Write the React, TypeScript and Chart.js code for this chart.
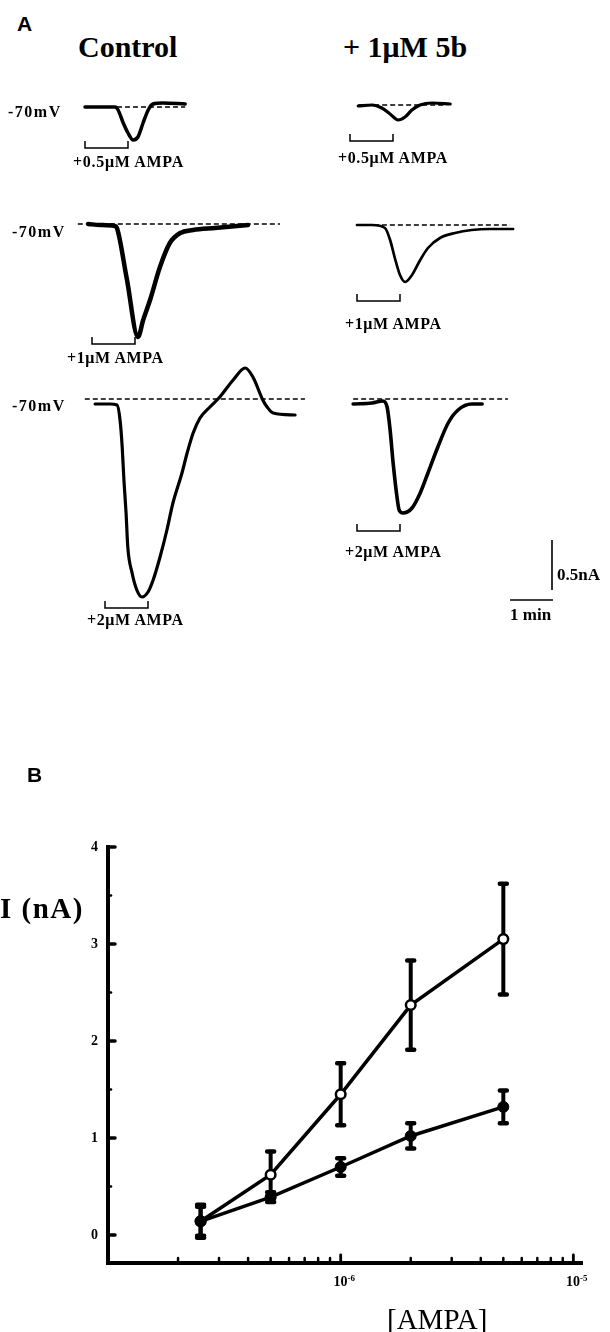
import React, { useEffect, useRef } from "react";
import { Chart, registerables } from "chart.js";

Chart.register(...registerables);

// ---------------- Panel A data: currents (nA, relative to -70 mV baseline) vs time (min from AMPA onset) ----------------
const ctl05Time = [0, 0.35, 0.7, 0.77, 0.88, 1.0, 1.12, 1.23, 1.35, 1.47, 1.58, 1.81, 2.33];
const ctl05Current = [0, 0, 0, -0.03, -0.15, -0.26, -0.33, -0.3, -0.16, -0.03, 0.03, 0.04, 0.03];
const ctl05Baseline = [0, 2.33];

const drug05Time = [0.19, 0.51, 0.74, 0.93, 1.12, 1.28, 1.44, 1.63, 1.91, 2.33];
const drug05Current = [-0.01, 0, -0.03, -0.09, -0.15, -0.12, -0.05, 0, 0.02, 0.01];
const drug05Baseline = [0.19, 2.2];

const ctl1Time = [-0.09, 0.19, 0.53, 0.58, 0.81, 1.07, 1.19, 1.35, 1.58, 1.81, 2.05, 2.35, 2.86, 3.63];
const ctl1Current = [0, -0.01, -0.02, -0.04, -0.55, -1.13, -0.96, -0.76, -0.43, -0.19, -0.09, -0.06, -0.04, -0.01];
const ctl1Baseline = [-0.33, 4.37];

const drug1Time = [0, 0.35, 0.65, 0.77, 0.88, 1.0, 1.12, 1.28, 1.47, 1.65, 1.93, 2.28, 2.67, 3.09, 3.63];
const drug1Current = [0, 0, -0.03, -0.15, -0.33, -0.5, -0.57, -0.5, -0.35, -0.23, -0.13, -0.08, -0.05, -0.04, -0.04];
const drug1Baseline = [0.02, 3.56];

const ctl2Time = [-0.23, 0.12, 0.28, 0.35, 0.4, 0.44, 0.49, 0.53, 0.63, 0.74, 0.86, 1.0, 1.12, 1.28, 1.44, 1.58, 1.79, 1.91, 2.05, 2.21, 2.44, 2.67, 2.98, 3.26, 3.44, 3.67, 3.77, 3.91, 4.42];
const ctl2Current = [-0.05, -0.05, -0.06, -0.21, -0.48, -0.81, -1.14, -1.48, -1.74, -1.91, -1.98, -1.93, -1.81, -1.58, -1.31, -1.04, -0.74, -0.54, -0.34, -0.19, -0.08, 0.02, 0.19, 0.31, 0.22, -0.01, -0.08, -0.14, -0.16];
const ctl2Baseline = [-0.47, 4.65];

const drug2Time = [-0.09, 0.35, 0.6, 0.7, 0.77, 0.84, 0.93, 0.98, 1.07, 1.28, 1.47, 1.65, 1.88, 2.12, 2.35, 2.67, 2.91];
const drug2Current = [-0.05, -0.04, -0.02, -0.08, -0.31, -0.64, -0.98, -1.11, -1.14, -1.09, -0.94, -0.74, -0.48, -0.24, -0.11, -0.05, -0.05];
const drug2Baseline = [-0.09, 3.51];

const applicationOn = [0, 0, 0, 0, 0, 0];
const applicationOff = [1, 1, 1, 1, 1, 1];
const scaleBarCurrent = 0.5; // nA
const scaleBarTime = 1; // min

// ---------------- Panel B data ----------------
const concentrations = [0.25e-6, 0.5e-6, 1e-6, 2e-6, 5e-6];
const controlMean = [0.14, 0.62, 1.45, 2.37, 3.05];
const controlErr = [0.17, 0.24, 0.32, 0.46, 0.57];
const drugMean = [0.14, 0.39, 0.7, 1.02, 1.32];
const drugErr = [0.15, 0.05, 0.09, 0.13, 0.17];
const yTickValues = [0, 1, 2, 3, 4];
const yTickLabels = ["0", "1", "2", "3", "4"];
const yMinorTicks = [0.5, 1.5, 2.5, 3.5];
const xMajorTicks = [1e-6, 1e-5];
const xMajorLabels = [["10", "-6"], ["10", "-5"]];
const xMinorTicks = [2e-7, 3e-7, 4e-7, 5e-7, 6e-7, 7e-7, 8e-7, 9e-7, 2e-6, 3e-6, 4e-6, 5e-6, 6e-6, 7e-6, 8e-6, 9e-6];

// ---------------- layout / style ----------------
const PX_PER_MIN = 43;
const PX_PER_NA = 100;
const SERIF = '"Liberation Serif", "Times New Roman", serif';
const SANS = '"Liberation Sans", Arial, sans-serif';

type TraceDef = {
  time: number[];
  current: number[];
  baseline: number[];
  idx: number;
  originX: number;
  baseY: number;
  bracketY: number;
  lw: number;
  scaleBar?: boolean;
};

const traces: TraceDef[] = [
  { time: ctl05Time, current: ctl05Current, baseline: ctl05Baseline, idx: 0, originX: 85, baseY: 107, bracketY: 148, lw: 3.5 },
  { time: drug05Time, current: drug05Current, baseline: drug05Baseline, idx: 1, originX: 350, baseY: 105, bracketY: 141, lw: 3.2 },
  { time: ctl1Time, current: ctl1Current, baseline: ctl1Baseline, idx: 2, originX: 92, baseY: 224, bracketY: 344, lw: 4.5 },
  { time: drug1Time, current: drug1Current, baseline: drug1Baseline, idx: 3, originX: 357, baseY: 225, bracketY: 301, lw: 2.7 },
  { time: ctl2Time, current: ctl2Current, baseline: ctl2Baseline, idx: 4, originX: 105, baseY: 399, bracketY: 608, lw: 3.2 },
  { time: drug2Time, current: drug2Current, baseline: drug2Baseline, idx: 5, originX: 357, baseY: 399, bracketY: 531, lw: 3.6, scaleBar: true },
];

const BOX_LEFT = 40;
const BOX_TOP = 40;
const BOX_W = 280;
const BOX_H = 260;

function TraceChart({ tr }: { tr: TraceDef }) {
  const ref = useRef<HTMLCanvasElement>(null);
  const left = tr.originX - BOX_LEFT;
  const top = tr.baseY - BOX_TOP;
  useEffect(() => {
    if (!ref.current) return;
    const bracketPlugin = {
      id: "bracket" + tr.idx,
      afterDatasetsDraw(chart: any) {
        const { ctx } = chart;
        const xs = chart.scales.x;
        const ys = chart.scales.y;
        const x1 = xs.getPixelForValue(applicationOn[tr.idx]);
        const x2 = xs.getPixelForValue(applicationOff[tr.idx]);
        const y = tr.bracketY - top;
        ctx.save();
        ctx.strokeStyle = "#000";
        ctx.lineWidth = 1.5;
        ctx.beginPath();
        ctx.moveTo(x1, y - 7);
        ctx.lineTo(x1, y);
        ctx.lineTo(x2, y);
        ctx.lineTo(x2, y - 7);
        ctx.stroke();
        if (tr.scaleBar) {
          // 0.5 nA and 1 min calibration bars, sized through the scales
          const barX = 552 - left;
          const barBottom = 590 - top;
          const hPx = ys.getPixelForValue(0) - ys.getPixelForValue(scaleBarCurrent);
          ctx.lineWidth = 1.6;
          ctx.beginPath();
          ctx.moveTo(barX, barBottom);
          ctx.lineTo(barX, barBottom - hPx);
          ctx.stroke();
          const tStart = (510 - tr.originX) / PX_PER_MIN;
          const xa = xs.getPixelForValue(tStart);
          const xb = xs.getPixelForValue(tStart + scaleBarTime);
          ctx.beginPath();
          ctx.moveTo(xa, 600 - top);
          ctx.lineTo(xb, 600 - top);
          ctx.stroke();
        }
        ctx.restore();
      },
    };
    const chart = new Chart(ref.current, {
      type: "line",
      data: {
        datasets: [
          {
            data: tr.time.map((t, i) => ({ x: t, y: tr.current[i] })),
            borderColor: "#000",
            borderWidth: tr.lw,
            pointRadius: 0,
            cubicInterpolationMode: "monotone",
            fill: false,
            clip: false as any,
            borderCapStyle: "round",
            borderJoinStyle: "round",
          },
          {
            data: [
              { x: tr.baseline[0], y: 0 },
              { x: tr.baseline[1], y: 0 },
            ],
            borderColor: "#000",
            borderWidth: 1.4,
            borderDash: [5, 3],
            pointRadius: 0,
            fill: false,
            clip: false as any,
          },
        ],
      },
      options: {
        animation: false,
        responsive: false,
        events: [],
        layout: { padding: 0 },
        plugins: { legend: { display: false }, tooltip: { enabled: false } },
        scales: {
          x: { type: "linear", display: false, min: -BOX_LEFT / PX_PER_MIN, max: (BOX_W - BOX_LEFT) / PX_PER_MIN },
          y: { type: "linear", display: false, min: -(BOX_H - BOX_TOP) / PX_PER_NA, max: BOX_TOP / PX_PER_NA },
        },
      } as any,
      plugins: [bracketPlugin],
    });
    return () => chart.destroy();
  }, []);
  return (
    <canvas
      ref={ref}
      width={BOX_W}
      height={BOX_H}
      style={{ position: "absolute", left, top, width: BOX_W, height: BOX_H }}
    />
  );
}

const B_TOP = 780;
const B_H = 552;

function DoseChart() {
  const ref = useRef<HTMLCanvasElement>(null);
  useEffect(() => {
    if (!ref.current) return;
    const axesPlugin = {
      id: "doseAxes",
      beforeDatasetsDraw(chart: any) {
        const { ctx } = chart;
        const xs = chart.scales.x;
        const ys = chart.scales.y;
        ctx.save();
        ctx.strokeStyle = "#000";
        const series: [number[], number[]][] = [
          [controlMean, controlErr],
          [drugMean, drugErr],
        ];
        series.forEach(([m, e]) => {
          concentrations.forEach((c, i) => {
            const x = xs.getPixelForValue(c);
            const y1 = ys.getPixelForValue(m[i] + e[i]);
            const y2 = ys.getPixelForValue(m[i] - e[i]);
            ctx.lineWidth = 4;
            ctx.lineCap = "butt";
            ctx.beginPath();
            ctx.moveTo(x, y1);
            ctx.lineTo(x, y2);
            ctx.stroke();
            ctx.lineCap = "round";
            ctx.lineWidth = 4.5;
            ctx.beginPath();
            ctx.moveTo(x - 3.5, y1);
            ctx.lineTo(x + 3.5, y1);
            ctx.moveTo(x - 3.5, y2);
            ctx.lineTo(x + 3.5, y2);
            ctx.stroke();
          });
        });
        ctx.restore();
      },
      afterDatasetsDraw(chart: any) {
        const { ctx, chartArea } = chart;
        const xs = chart.scales.x;
        const ys = chart.scales.y;
        const { left, right, top, bottom } = chartArea;
        ctx.save();
        ctx.strokeStyle = "#000";
        ctx.fillStyle = "#000";
        // axis lines
        ctx.lineWidth = 4;
        ctx.lineCap = "butt";
        ctx.lineJoin = "miter";
        ctx.beginPath();
        ctx.moveTo(left, top - 2);
        ctx.lineTo(left, bottom);
        ctx.lineTo(right, bottom);
        ctx.stroke();
        ctx.lineCap = "round";
        // y ticks (inward)
        yTickValues.forEach((v) => {
          const y = ys.getPixelForValue(v);
          ctx.lineWidth = 3.5;
          ctx.beginPath();
          ctx.moveTo(left, y);
          ctx.lineTo(left + 7, y);
          ctx.stroke();
        });
        yMinorTicks.forEach((v) => {
          const y = ys.getPixelForValue(v);
          ctx.lineWidth = 2.5;
          ctx.beginPath();
          ctx.moveTo(left, y);
          ctx.lineTo(left + 3, y);
          ctx.stroke();
        });
        // x ticks (inward)
        xMinorTicks.forEach((v) => {
          const x = xs.getPixelForValue(v);
          ctx.lineWidth = 2.5;
          ctx.beginPath();
          ctx.moveTo(x, bottom);
          ctx.lineTo(x, bottom - 5);
          ctx.stroke();
        });
        xMajorTicks.forEach((v) => {
          const x = xs.getPixelForValue(v);
          ctx.lineWidth = 2.8;
          ctx.beginPath();
          ctx.moveTo(x, bottom);
          ctx.lineTo(x, bottom - 8);
          ctx.stroke();
        });
        // y tick labels
        ctx.font = `bold 14px ${SERIF}`;
        ctx.textAlign = "right";
        ctx.textBaseline = "middle";
        yTickValues.forEach((v, i) => {
          ctx.fillText(yTickLabels[i], left - 10, ys.getPixelForValue(v) + 0.5);
        });
        // x tick labels with superscript exponent
        ctx.textAlign = "left";
        ctx.textBaseline = "alphabetic";
        xMajorTicks.forEach((v, i) => {
          const x = xs.getPixelForValue(v);
          const [base, exp] = xMajorLabels[i];
          ctx.font = `bold 14px ${SERIF}`;
          const w1 = ctx.measureText(base).width;
          ctx.font = `bold 9px ${SERIF}`;
          const w2 = ctx.measureText(exp).width;
          const sx = x + 3.5 - (w1 + w2) / 2;
          ctx.font = `bold 14px ${SERIF}`;
          ctx.fillText(base, sx, bottom + 23);
          ctx.font = `bold 9px ${SERIF}`;
          ctx.fillText(exp, sx + w1, bottom + 18);
        });
        ctx.restore();
      },
    };
    const chart = new Chart(ref.current, {
      type: "line",
      data: {
        datasets: [
          {
            label: "+1μM 5b",
            data: concentrations.map((c, i) => ({ x: c, y: drugMean[i] })),
            borderColor: "#000",
            borderWidth: 3.5,
            pointRadius: 5.5,
            pointBackgroundColor: "#000",
            pointBorderColor: "#000",
            pointBorderWidth: 1,
            fill: false,
          },
          {
            label: "Control",
            data: concentrations.map((c, i) => ({ x: c, y: controlMean[i] })),
            borderColor: "#000",
            borderWidth: 3.5,
            pointRadius: 4.8,
            pointBackgroundColor: "#fff",
            pointBorderColor: "#000",
            pointBorderWidth: 2.5,
            fill: false,
          },
        ],
      },
      options: {
        animation: false,
        responsive: false,
        events: [],
        layout: { padding: { left: 108, right: 27, top: 847 - B_TOP, bottom: B_TOP + B_H - 1263 } },
        plugins: { legend: { display: false }, tooltip: { enabled: false } },
        scales: {
          x: { type: "logarithmic", display: false, min: 1e-7, max: 1.1e-5 },
          y: { type: "linear", display: false, min: -0.29, max: 4 },
        },
      } as any,
      plugins: [axesPlugin],
    });
    return () => chart.destroy();
  }, []);
  return (
    <canvas
      ref={ref}
      width={610}
      height={B_H}
      style={{ position: "absolute", left: 0, top: B_TOP, width: 610, height: B_H }}
    />
  );
}

type Label = { text: string; left: number; baseline: number; size: number; bold: boolean; sans?: boolean; spacing?: number };

const labels: Label[] = [
  { text: "A", left: 17, baseline: 31, size: 21, bold: true, sans: true },
  { text: "Control", left: 78, baseline: 57, size: 30, bold: true },
  { text: "+ 1μM 5b", left: 343, baseline: 57, size: 30, bold: true },
  { text: "-70mV", left: 8, baseline: 117, size: 16, bold: true, spacing: 1.5 },
  { text: "-70mV", left: 12, baseline: 237, size: 16, bold: true, spacing: 1.5 },
  { text: "-70mV", left: 12, baseline: 411, size: 16, bold: true, spacing: 1.5 },
  { text: "+0.5μM AMPA", left: 73, baseline: 167, size: 16, bold: true, spacing: 0.7 },
  { text: "+0.5μM AMPA", left: 338, baseline: 163, size: 16, bold: true, spacing: 0.6 },
  { text: "+1μM AMPA", left: 67, baseline: 363, size: 16, bold: true, spacing: 0.6 },
  { text: "+1μM AMPA", left: 345, baseline: 329, size: 16, bold: true, spacing: 0.6 },
  { text: "+2μM AMPA", left: 87, baseline: 625, size: 16, bold: true, spacing: 0.6 },
  { text: "+2μM AMPA", left: 345, baseline: 557, size: 16, bold: true, spacing: 0.6 },
  { text: "0.5nA", left: 557, baseline: 580, size: 17, bold: true },
  { text: "1 min", left: 510, baseline: 620, size: 17, bold: true },
  { text: "B", left: 27, baseline: 782, size: 21, bold: true, sans: true },
  { text: "I (nA)", left: 0, baseline: 918, size: 29, bold: true, spacing: 1.5 },
  { text: "[AMPA]", left: 387, baseline: 1329, size: 29, bold: false },
];

function TextLabel({ l }: { l: Label }) {
  const k = l.sans ? 0.8465 : 0.8375;
  return (
    <div
      style={{
        position: "absolute",
        left: l.left,
        top: l.baseline - k * l.size,
        fontFamily: l.sans ? SANS : SERIF,
        fontWeight: l.bold ? 700 : 400,
        fontSize: l.size,
        lineHeight: 1,
        whiteSpace: "nowrap",
        letterSpacing: l.spacing ? `${l.spacing}px` : undefined,
        color: "#000",
      }}
    >
      {l.text}
    </div>
  );
}

export default function App() {
  return (
    <div style={{ position: "absolute", left: 0, top: 0, width: 610, height: 1332, background: "#fff", overflow: "hidden" }}>
      {traces.map((tr) => (
        <TraceChart key={tr.idx} tr={tr} />
      ))}
      <DoseChart />
      {labels.map((l, i) => (
        <TextLabel key={i} l={l} />
      ))}
    </div>
  );
}
